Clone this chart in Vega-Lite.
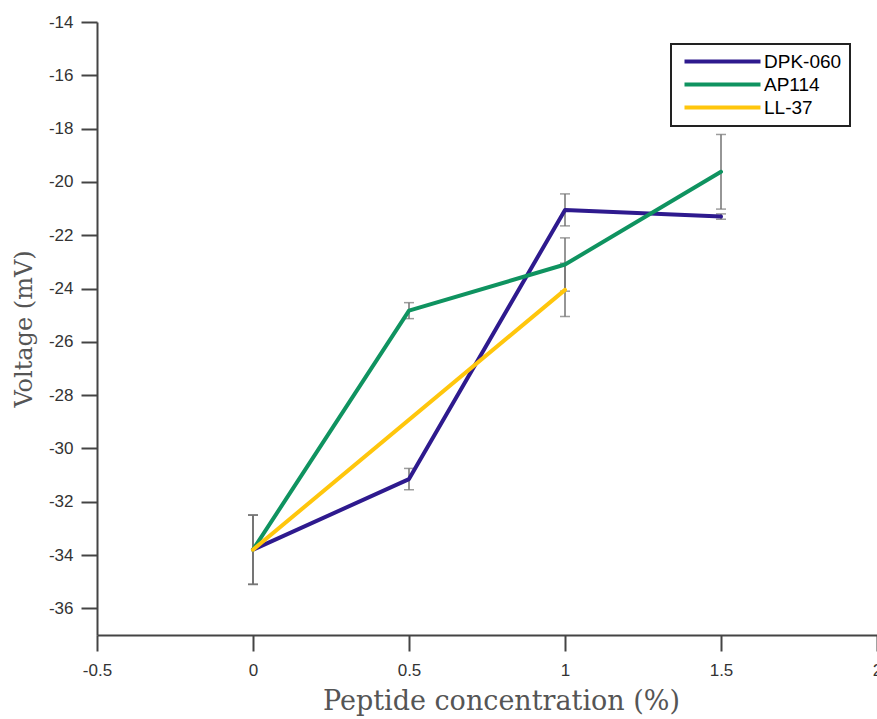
{
  "$schema": "https://vega.github.io/schema/vega-lite/v6.json",
  "width": 780,
  "height": 613,
  "autosize": {"type": "none"},
  "padding": {"left": 97, "top": 22, "right": 0, "bottom": 84},
  "background": "white",
  "config": {
    "view": {"stroke": null},
    "axis": {
      "grid": false,
      "domainColor": "#444444",
      "domainWidth": 2,
      "tickColor": "#444444",
      "tickWidth": 2,
      "tickSize": 16,
      "labelFont": "Liberation Sans",
      "labelFontSize": 17,
      "labelColor": "#333333",
      "titleFont": "DejaVu Serif",
      "titleFontWeight": "normal",
      "titleColor": "#555555"
    }
  },
  "data": {
    "values": [
      {"series": "DPK-060", "conc": 0, "v": -33.8, "err": 1.3},
      {"series": "DPK-060", "conc": 0.5, "v": -31.15, "err": 0.4},
      {"series": "DPK-060", "conc": 1, "v": -21.05, "err": 0.6},
      {"series": "DPK-060", "conc": 1.5, "v": -21.3, "err": 0.1},
      {"series": "AP114", "conc": 0, "v": -33.8, "err": 1.3},
      {"series": "AP114", "conc": 0.5, "v": -24.83, "err": 0.3},
      {"series": "AP114", "conc": 1, "v": -23.1, "err": 1.0},
      {"series": "AP114", "conc": 1.5, "v": -19.62, "err": 1.4},
      {"series": "LL-37", "conc": 0, "v": -33.8, "err": 1.3},
      {"series": "LL-37", "conc": 1, "v": -24.05, "err": 1.0}
    ]
  },
  "encoding": {
    "x": {
      "field": "conc",
      "type": "quantitative",
      "scale": {"domain": [-0.5, 2], "nice": false, "zero": false},
      "axis": {"values": [-0.5, 0, 0.5, 1, 1.5, 2], "labelExpr": "'' + datum.value", "title": "Peptide concentration (%)", "titleFontSize": 27, "titleX": 404, "labelPadding": 11, "titlePadding": 10, "labelFlush": false, "labelOverlap": false}
    },
    "y": {
      "field": "v",
      "type": "quantitative",
      "scale": {"domain": [-37, -14], "nice": false, "zero": false},
      "axis": {"values": [-36, -34, -32, -30, -28, -26, -24, -22, -20, -18, -16, -14], "labelExpr": "'' + datum.value", "title": "Voltage (mV)", "titleFontSize": 24, "labelPadding": 8, "titlePadding": 12, "labelFlush": false, "labelOverlap": false}
    }
  },
  "layer": [
    {
      "mark": {"type": "errorbar", "ticks": {"size": 10, "thickness": 1.5, "color": "#737373"}, "rule": {"color": "#737373", "strokeWidth": 1.5}},
      "encoding": {
        "x": {"field": "conc", "type": "quantitative"},
        "y": {"field": "v", "type": "quantitative"},
        "yError": {"field": "err"}
      }
    },
    {
      "mark": {"type": "line", "strokeWidth": 4, "strokeCap": "round", "strokeJoin": "round"},
      "encoding": {
        "color": {
          "field": "series",
          "type": "nominal",
          "sort": ["DPK-060", "AP114", "LL-37"],
          "scale": {"domain": ["DPK-060", "AP114", "LL-37"], "range": ["#2E1A8E", "#0F9360", "#FFC60C"]},
          "legend": {
            "title": null,
            "orient": "none",
            "legendX": 574,
            "legendY": 22,
            "symbolType": "M-7.6,0H7.6",
            "symbolSize": 100,
            "symbolOffset": 34,
            "symbolStrokeWidth": 4,
            "labelOffset": 32,
            "labelFont": "Liberation Sans",
            "labelFontSize": 19,
            "labelColor": "#000000",
            "strokeColor": "#222222",
            "fillColor": "white",
            "padding": 8,
            "rowPadding": 3,
            "encode": {"legend": {"update": {"strokeWidth": {"value": 2}}}}
          }
        }
      }
    }
  ]
}
